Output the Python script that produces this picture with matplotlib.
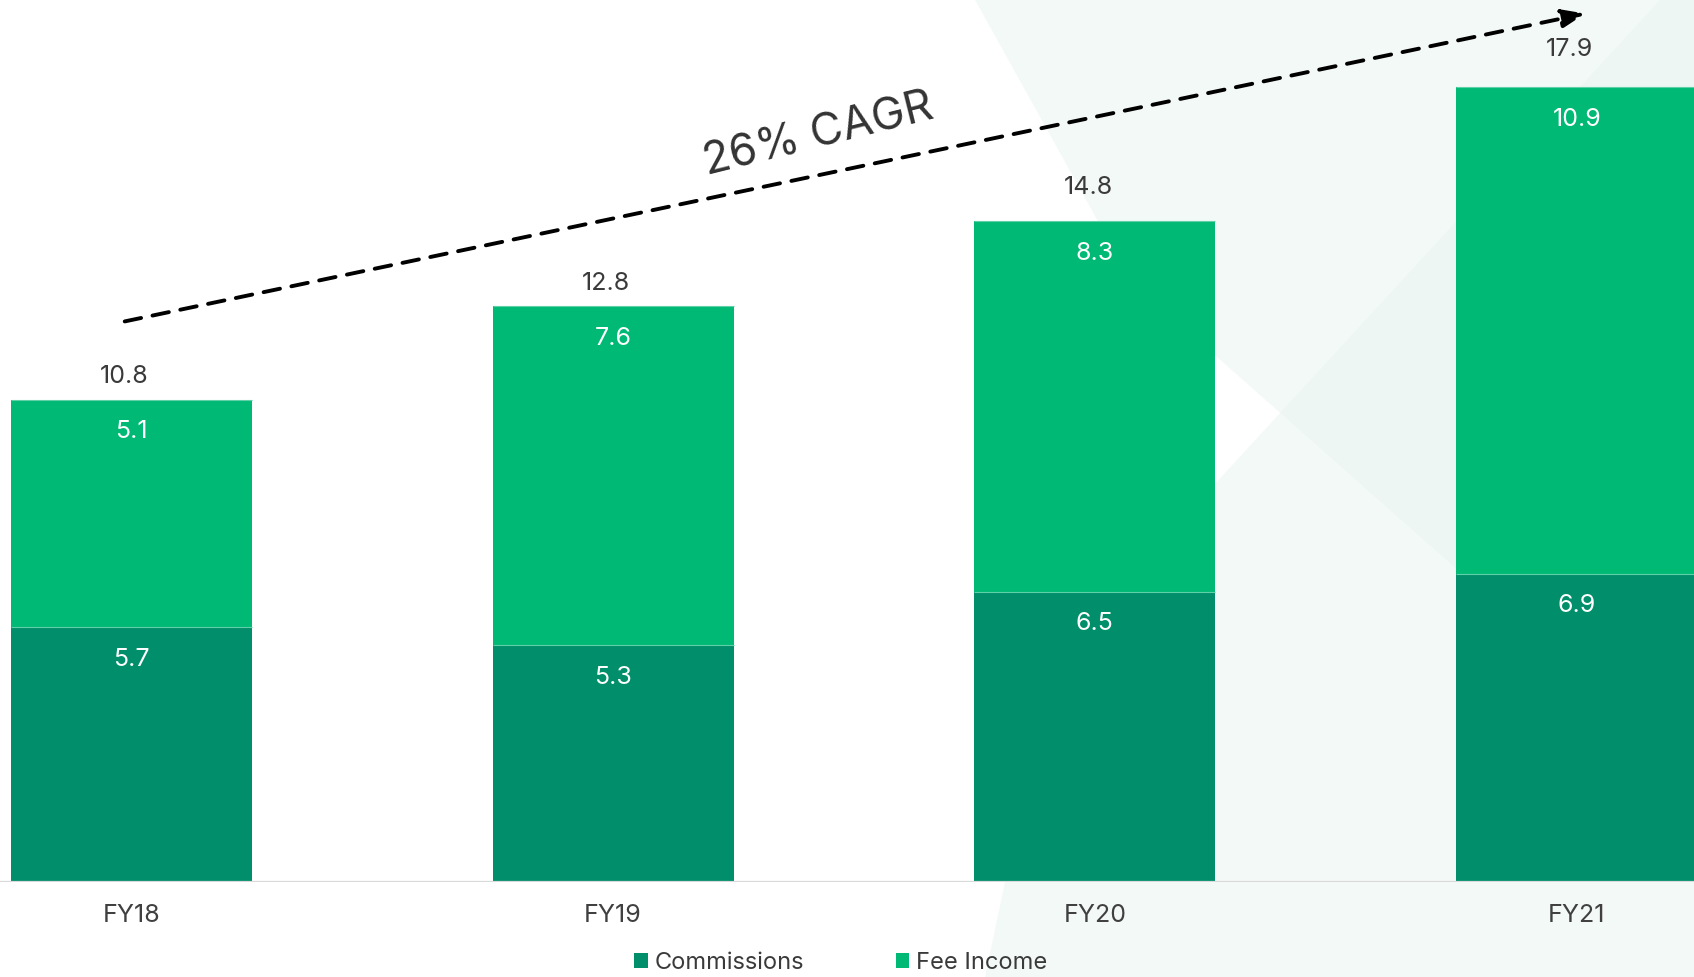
import matplotlib
matplotlib.use("Agg")
import matplotlib.pyplot as plt
from matplotlib.patches import Polygon, Patch, FancyArrowPatch
import numpy as np

plt.rcParams['font.family'] = ['Inter', 'DejaVu Sans']

categories = ["FY18", "FY19", "FY20", "FY21"]
commissions = [5.7, 5.3, 6.5, 6.9]
fee_income = [5.1, 7.6, 8.3, 10.9]
totals = [10.8, 12.8, 14.8, 17.9]
cagr_label = "26% CAGR"
series_names = ["Commissions", "Fee Income"]

W, H = 1694, 977
fig = plt.figure(figsize=(W / 100, H / 100), dpi=100)
fig.patch.set_facecolor("white")

# background decorative shapes
bgax = fig.add_axes([0, 0, 1, 1], zorder=0)
bgax.set_xlim(0, W)
bgax.set_ylim(H, 0)
bgax.axis("off")
bg = "#e8f5ef"
bgax.add_patch(Polygon([(975, 0), (1131, 281), (1694, 779), (1694, 0)],
                       closed=True, facecolor=bg, alpha=0.5, edgecolor="none"))
bgax.add_patch(Polygon([(1660, 0), (1694, 0), (1694, 977), (985, 977), (1051, 662)],
                       closed=True, facecolor=bg, alpha=0.5, edgecolor="none"))

ax = fig.add_axes([0, 0.0976, 1, 0.9024], zorder=1)
ax.set_facecolor("none")
x = np.arange(len(categories))
dark = "#008e6b"
light = "#00b975"
width = 0.5

ax.bar(x, commissions, width, color=dark, zorder=2)
ax.bar(x, fee_income, width, bottom=commissions, color=light, zorder=2)
tops = np.array(commissions) + np.array(fee_income)
ax.hlines(commissions, x - width / 2, x + width / 2, color="#5fd0a8", lw=0.8, zorder=3)
ax.hlines(tops, x - width / 2, x + width / 2, color="#5fd0a8", lw=0.8, zorder=3)

ax.set_xlim(-0.2725, 3.2434)
ax.set_ylim(0, 19.76)
for s in ax.spines.values():
    s.set_visible(False)
ax.axhline(0, color="#d9d9d9", lw=1.6, zorder=4)
ax.set_yticks([])
ax.set_xticks(x)
ax.set_xticklabels(categories, fontsize=18, color="#404040")
ax.tick_params(axis="x", length=0, pad=16)

txt = "#3a3a3a"
total_offsets = [16.5, 16.5, 24, 27]
for i in range(len(categories)):
    ax.annotate(f"{totals[i]:.1f}", (x[i], tops[i]),
                xytext=(-5, total_offsets[i]), textcoords="offset points",
                ha="center", va="center", fontsize=18, color=txt, zorder=5)
    ax.annotate(f"{fee_income[i]:.1f}", (x[i], tops[i]),
                xytext=(0, -23), textcoords="offset points", ha="center", va="center",
                fontsize=18, color="white", zorder=5)
    ax.annotate(f"{commissions[i]:.1f}", (x[i], commissions[i]),
                xytext=(0, -23), textcoords="offset points", ha="center", va="center",
                fontsize=18, color="white", zorder=5)

# CAGR arrow and label
cax = fig.add_axes([0, 0, 1, 1], zorder=2)
cax.set_xlim(0, W)
cax.set_ylim(H, 0)
cax.axis("off")
cax.add_artist(FancyArrowPatch(
    (122, 322), (1588, 13), arrowstyle="-|>,head_length=14,head_width=5.5",
    mutation_scale=1, color="black", lw=2.8, linestyle=(0, (4.3, 3.0))))
cax.text(818, 134, cagr_label, rotation=14, ha="center", va="center",
         fontsize=32, color="#333333", rotation_mode="anchor")

handles = [Patch(facecolor=dark, edgecolor="none"), Patch(facecolor=light, edgecolor="none")]
fig.legend(handles, series_names, loc="center", bbox_to_anchor=(841 / W, 1 - 963 / H),
           ncol=2, frameon=False, fontsize=17, handlelength=0.56, handleheight=0.56,
           handletextpad=0.3, columnspacing=3.9, labelcolor=txt)

fig.savefig("out.png", dpi=100, facecolor="white")
